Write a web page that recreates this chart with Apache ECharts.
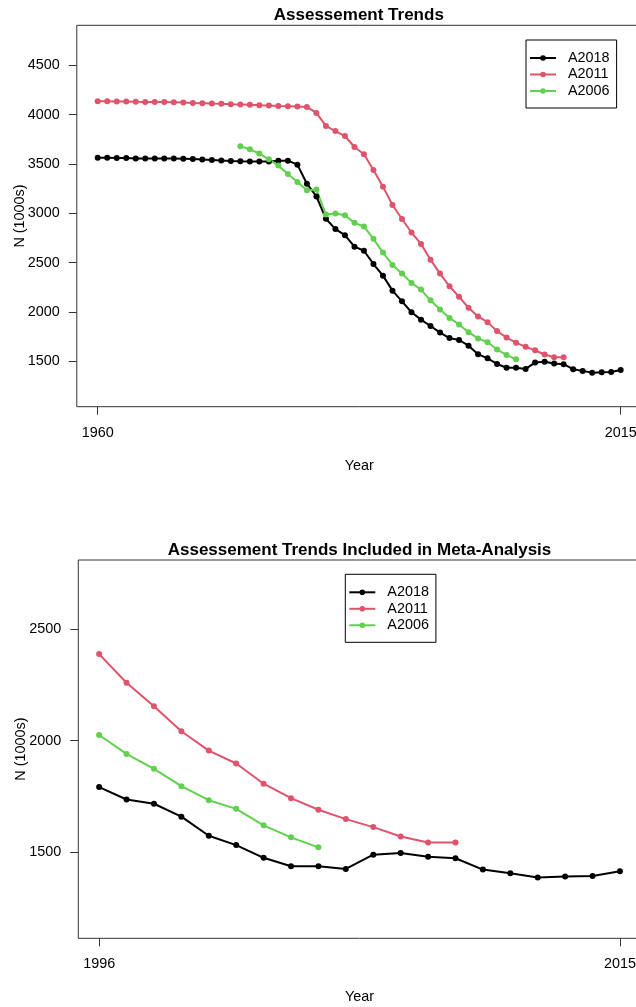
<!DOCTYPE html>
<html><head><meta charset="utf-8">
<script src="https://cdn.jsdelivr.net/npm/echarts@6/dist/echarts.min.js"></script>
<style>html,body{margin:0;padding:0;overflow:hidden;background:#fff;width:636px}#c{width:680px;height:1007px}</style>
</head><body><div id="c"></div>
<script>
const years = [1960,1961,1962,1963,1964,1965,1966,1967,1968,1969,1970,1971,1972,1973,1974,1975,1976,1977,1978,1979,1980,1981,1982,1983,1984,1985,1986,1987,1988,1989,1990,1991,1992,1993,1994,1995,1996,1997,1998,1999,2000,2001,2002,2003,2004,2005,2006,2007,2008,2009,2010,2011,2012,2013,2014,2015];
const a2018 = [3562,3562,3561,3560,3556,3555,3555,3555,3554,3553,3550,3545,3540,3535,3530,3527,3525,3525,3525,3532,3533,3493,3300,3170,2945,2840,2778,2662,2620,2486,2368,2216,2108,1997,1922,1858,1791,1735,1716,1658,1572,1530,1473,1435,1435,1423,1487,1495,1478,1471,1420,1403,1384,1389,1391,1412];
const a2011 = [4135,4135,4134,4133,4130,4129,4128,4127,4125,4122,4118,4115,4112,4110,4106,4103,4100,4095,4092,4088,4085,4081,4078,4017,3885,3833,3783,3672,3598,3439,3270,3084,2942,2805,2690,2530,2389,2260,2154,2042,1955,1897,1806,1741,1689,1647,1611,1569,1542,1542,null,null,null,null,null,null];
const a2006 = [null,null,null,null,null,null,null,null,null,null,null,null,null,null,null,3679,3649,3605,3547,3483,3399,3317,3234,3241,2987,2997,2980,2903,2866,2741,2602,2477,2389,2294,2227,2118,2025,1940,1873,1795,1732,1693,1619,1565,1520,null,null,null,null,null,null,null,null,null,null,null];
const seriesNames = ['A2018','A2011','A2006'];
const seriesColors = ['#000000','#DF536B','#61D04F'];
const topYTicks = [1500,2000,2500,3000,3500,4000,4500];
const topXTicks = [1960,2015];
const botYTicks = [1500,2000,2500];
const botXTicks = [1996,2015];
const botStart = 1996;

const FONT = 'Liberation Sans, Arial, sans-serif';
const allData = [a2018, a2011, a2006];
function pairs(arr, fromYear) {
  const out = [];
  for (let i = 0; i < years.length; i++) {
    if (arr[i] != null && years[i] >= fromYear) out.push([years[i], arr[i]]);
  }
  return out;
}
function xAx(idx, min, max, ticks) {
  return {type:'value', gridIndex:idx, min:min, max:max,
    axisLine:{show:false}, splitLine:{show:false},
    axisTick:{show:true, length:8, lineStyle:{color:'#333', width:1}, customValues:ticks},
    axisLabel:{color:'#000', fontSize:14.4, fontFamily:FONT, margin:19, customValues:ticks, formatter: v => String(v)},
    name:'Year', nameLocation:'middle', nameGap:52,
    nameTextStyle:{color:'#000', fontSize:14.4, fontFamily:FONT}};
}
function yAx(idx, min, max, ticks) {
  return {type:'value', gridIndex:idx, min:min, max:max,
    axisLine:{show:false}, splitLine:{show:false},
    axisTick:{show:true, length:8, lineStyle:{color:'#333', width:1}, customValues:ticks},
    axisLabel:{color:'#000', fontSize:14.4, fontFamily:FONT, margin:17, customValues:ticks, formatter: v => String(v)},
    name:'N (1000s)', nameLocation:'middle', nameGap:50, nameRotate:90, nameMoveOverlap:false,
    nameTextStyle:{color:'#000', fontSize:14.4, fontFamily:FONT}};
}
function legendAt(left, top) {
  return {orient:'vertical', left:left, top:top, data:seriesNames,
    borderColor:'#000', borderWidth:1, borderRadius:0, backgroundColor:'#fff',
    padding:[10,7,9,3], itemGap:0.5, itemWidth:26, itemHeight:7,
    textStyle:{color:'#000', fontSize:14.4, fontFamily:FONT, lineHeight:16, padding:[0,0,0,7]},
    selectedMode:false};
}
const series = [];
seriesNames.forEach((n, i) => {
  series.push({name:n, type:'line', xAxisIndex:0, yAxisIndex:0, data:pairs(allData[i], 0),
    symbol:'circle', symbolSize:6, showSymbol:true, color:seriesColors[i],
    lineStyle:{width:2, color:seriesColors[i]}, itemStyle:{color:seriesColors[i]}, animation:false});
});
seriesNames.forEach((n, i) => {
  series.push({name:n, type:'line', xAxisIndex:1, yAxisIndex:1, data:pairs(allData[i], botStart),
    symbol:'circle', symbolSize:6, showSymbol:true, color:seriesColors[i],
    lineStyle:{width:2, color:seriesColors[i]}, itemStyle:{color:seriesColors[i]}, animation:false});
});
const chart = echarts.init(document.getElementById('c'), null, {renderer:'canvas', width:680, height:1007});
chart.setOption({
  animation:false,
  backgroundColor:'#fff',
  title:[
    {text:'Assessement Trends', left:358.8, top:6.5, textAlign:'center', padding:0,
     textStyle:{fontSize:17, fontWeight:'bold', color:'#000', fontFamily:FONT}},
    {text:'Assessement Trends Included in Meta-Analysis', left:359.5, top:541.5, textAlign:'center', padding:0,
     textStyle:{fontSize:17, fontWeight:'bold', color:'#000', fontFamily:FONT}}
  ],
  grid:[
    {left:76.8, top:25.3, width:564.8, height:381.4, show:true, borderColor:'#333', borderWidth:1, backgroundColor:'transparent', containLabel:false, outerBoundsMode:'none'},
    {left:78.3, top:560, width:562.5, height:378.3, show:true, borderColor:'#333', borderWidth:1, backgroundColor:'transparent', containLabel:false, outerBoundsMode:'none'}
  ],
  xAxis:[xAx(0, 1957.8, 2017.2, topXTicks), xAx(1, 1995.24, 2015.76, botXTicks)],
  yAxis:[yAx(0, 1040, 4905, topYTicks), yAx(1, 1111, 2812, botYTicks)],
  legend:[legendAt(526, 40), legendAt(345.3, 574.3)],
  series:series
});
</script></body></html>
